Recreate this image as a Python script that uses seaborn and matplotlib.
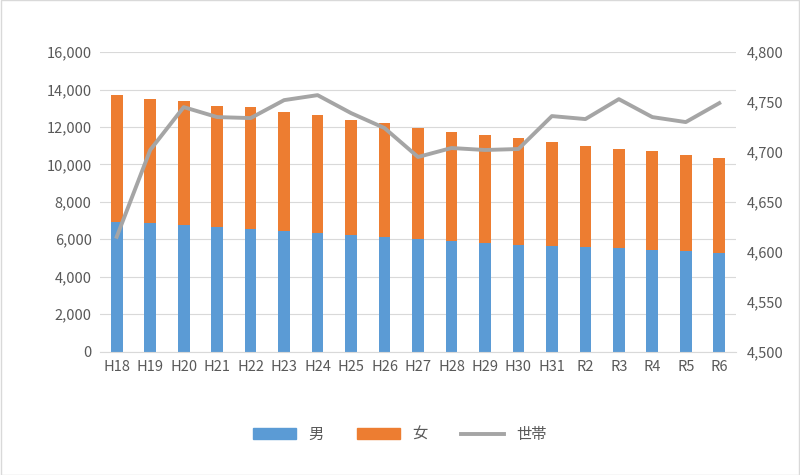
import numpy as np
import pandas as pd
import matplotlib
matplotlib.use("Agg")
import matplotlib.pyplot as plt
import seaborn as sns
from matplotlib.ticker import FuncFormatter
from matplotlib.patches import Patch
from matplotlib.lines import Line2D

plt.rcParams["font.family"] = "Noto Sans CJK JP"

years = ["H18", "H19", "H20", "H21", "H22", "H23", "H24", "H25", "H26", "H27",
         "H28", "H29", "H30", "H31", "R2", "R3", "R4", "R5", "R6"]
male = [6900, 6850, 6750, 6650, 6550, 6450, 6350, 6250, 6100, 6000,
        5900, 5800, 5700, 5650, 5600, 5550, 5450, 5350, 5250]
total = [13700, 13500, 13400, 13150, 13050, 12800, 12650, 12400, 12200, 11950,
         11750, 11550, 11400, 11200, 11000, 10850, 10700, 10500, 10350]
female = [t - m for t, m in zip(total, male)]
households = [4615, 4702, 4745, 4735, 4734, 4752, 4757, 4739, 4724, 4695,
              4704, 4702, 4703, 4736, 4733, 4753, 4735, 4730, 4749]

C_M, C_F, C_H = "#5B9BD5", "#ED7D31", "#A5A5A5"

df = pd.DataFrame({"year": years, "male": male, "total": total, "hh": households})

fig = plt.figure(figsize=(8, 4.75), dpi=100)
ax = fig.add_axes([0.125, 0.26, 0.795, 0.63])
sns.barplot(data=df, x="year", y="total", color=C_F, width=0.35, saturation=1, ax=ax)
sns.barplot(data=df, x="year", y="male", color=C_M, width=0.35, saturation=1, ax=ax)
ax.set_ylim(0, 16000)
ax.set_yticks(np.arange(0, 16001, 2000))
ax.yaxis.set_major_formatter(FuncFormatter(lambda v, p: f"{int(v):,}"))
ax.grid(axis="y", color="#D9D9D9", linewidth=0.8)
ax.set_axisbelow(True)
ax.set_xlabel("")
ax.set_ylabel("")
for s in ["top", "right", "left"]:
    ax.spines[s].set_visible(False)
ax.spines["bottom"].set_color("#D9D9D9")
ax.tick_params(length=0, labelsize=10.5, colors="#595959", pad=6)

ax2 = ax.twinx()
sns.lineplot(x=np.arange(len(years)), y=households, color=C_H, linewidth=2.8, ax=ax2)
ax2.set_ylim(4500, 4800)
ax2.set_yticks(np.arange(4500, 4801, 50))
ax2.yaxis.set_major_formatter(FuncFormatter(lambda v, p: f"{int(v):,}"))
for s in ax2.spines.values():
    s.set_visible(False)
ax2.tick_params(length=0, labelsize=10.5, colors="#595959", pad=8)
ax.set_xlim(-0.5, len(years) - 0.5)

handles = [Patch(color=C_M, label="男"), Patch(color=C_F, label="女"),
           Line2D([], [], color=C_H, linewidth=2.8, label="世帯")]
fig.legend(handles=handles, loc="center", bbox_to_anchor=(0.5, 0.085), ncol=3,
           frameon=False, fontsize=11, handlelength=2.8, columnspacing=2.2,
           labelcolor="#595959")
fig.patches.append(plt.Rectangle((0.001, 0.001), 0.998, 0.998, transform=fig.transFigure,
                                 fill=False, edgecolor="#D9D9D9", linewidth=1))
fig.savefig("out.png", dpi=100)
